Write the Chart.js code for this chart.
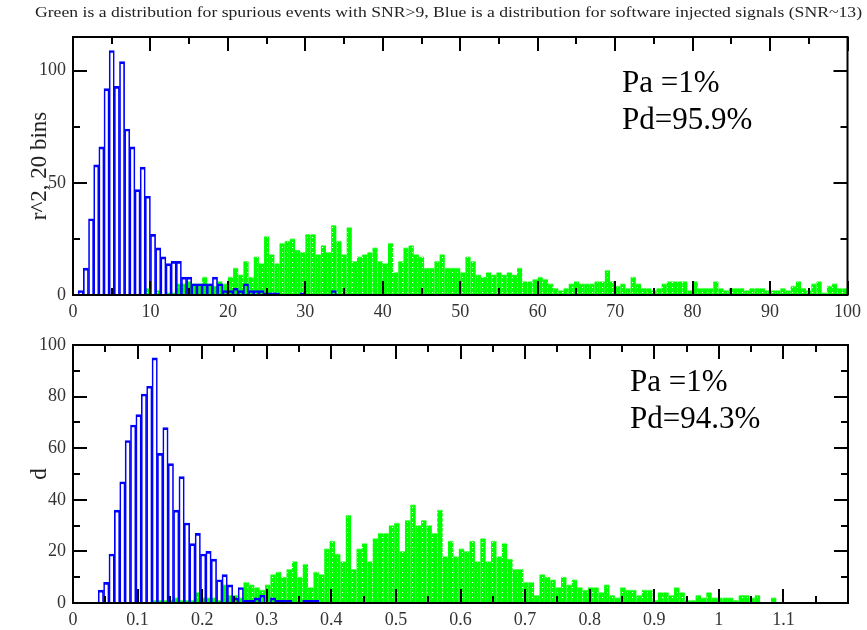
<!DOCTYPE html>
<html>
<head>
<meta charset="utf-8">
<script src="https://cdn.jsdelivr.net/npm/chart.js@4.4.1/dist/chart.umd.min.js"></script>
<style>
  html, body { margin: 0; padding: 0; background: #fff; }
  #wrap { position: relative; width: 867px; height: 630px; }
  canvas { position: absolute; left: 0; }
</style>
</head>
<body>
<div id="wrap">
  <canvas id="topChart" width="867" height="320" style="top:0"></canvas>
  <canvas id="bottomChart" width="867" height="310" style="top:320px"></canvas>
</div>
<script>
const mainTitle = "Green is a distribution for spurious events with SNR>9, Blue is a distribution for software injected signals (SNR~13)";

// top panel: r^2, bins of 2/3 starting at 0
const topBinStart = 0;
const topBinWidth = 2 / 3;
const topBlue = [0,2,12,34,58,66,92,109,93,104,74,66,47,57,44,27,21,17,14,15,15,8,8,5,5,5,5,8,5,2,2,3,2,5,2,2,2,1,1,1,0,0,0,0,1,0,0,0,0,0,2];
const topGreen = [
  0,0,0,0,0,0,0,0,0,0,
  0,0,0,0,3,0,2,0,1,1,
  5,5,6,5,5,8,5,4,6,5,
  8,12,9,15,8,17,14,26,18,14,
  23,24,25,20,19,27,27,18,22,19,
  31,24,18,30,15,17,18,19,21,15,
  14,23,10,15,21,22,18,17,12,12,
  15,18,12,12,12,10,17,15,9,8,
  10,9,10,9,10,9,12,6,6,7,
  8,7,5,3,2,3,5,6,5,5,
  5,6,6,11,6,4,5,3,8,5,
  3,3,2,3,5,6,6,6,6,2,
  6,3,3,3,6,3,2,3,3,3,
  2,3,3,3,2,2,2,3,2,4,
  6,3,2,5,6,1,4,5,3,3
];
const topXTicks = [0,10,20,30,40,50,60,70,80,90,100];
const topXMinor = [5,15,25,35,45,55,65,75,85,95];
const topYTicks = [0,50,100];
const topYMinor = [25,75];
const topNotes = ["Pa =1%", "Pd=95.9%"];

// bottom panel: d, bins of 1/120 starting at 0.039
const bottomBinStart = 0.039;
const bottomBinWidth = 1 / 120;
const bottomBlue = [5,8,19,36,47,63,69,73,81,84,95,58,68,54,36,49,31,23,27,19,20,17,9,11,7,2,6,1,1,2,3,0,2,1,1,1,0,0,1,1,1];
const bottomGreen = [
  0,0,0,0,0,0,0,0,0,0,
  1,1,1,1,2,1,1,1,4,2,
  2,2,1,7,3,3,2,8,7,6,
  5,7,11,12,10,13,16,10,15,6,
  12,11,21,24,19,16,34,13,21,23,
  16,25,27,27,30,31,20,32,38,30,
  32,30,27,36,18,24,18,21,20,24,
  16,25,16,24,18,23,17,13,13,8,
  8,3,11,10,9,6,10,7,9,6,
  5,6,6,4,7,3,2,6,5,5,
  3,5,5,1,4,4,3,6,4,1,
  1,3,2,4,2,2,2,2,1,3,
  3,2,3,0,0,2
];
const bottomXTicks = [0,0.1,0.2,0.3,0.4,0.5,0.6,0.7,0.8,0.9,1,1.1];
const bottomXMinor = [0.05,0.15,0.25,0.35,0.45,0.55,0.65,0.75,0.85,0.95,1.05,1.15];
const bottomYTicks = [0,20,40,60,80,100];
const bottomYMinor = [10,30,50,70,90];
const bottomNotes = ["Pa =1%", "Pd=94.3%"];

const serif = "'Liberation Serif', 'Times New Roman', serif";

// histogram counts -> bar points at bin centres
const toPoints = (counts, start, width) =>
  counts.map((c, i) => ({ x: start + (i + 0.5) * width, y: c > 0 ? c : null }));

// green with white dots
function dotPattern(ctx) {
  const c = document.createElement("canvas");
  c.width = 5;
  c.height = 5;
  const g = c.getContext("2d");
  g.fillStyle = "#00ff00";
  g.fillRect(0, 0, 5, 5);
  g.fillStyle = "#f4fff4";
  g.fillRect(2, 2, 1, 1);
  return ctx.createPattern(c, "repeat");
}

// frame, inward ticks on all four sides, and the Pa/Pd notes
const framePlugin = {
  id: "frame",
  afterDatasetsDraw(chart, args, o) {
    const { ctx, chartArea: a, scales: { x, y } } = chart;
    ctx.save();
    ctx.strokeStyle = "#000";
    ctx.lineWidth = 2;
    const line = (x1, y1, x2, y2) => {
      ctx.beginPath();
      ctx.moveTo(x1, y1);
      ctx.lineTo(x2, y2);
      ctx.stroke();
    };
    const xt = (vals, len) => vals.forEach(v => {
      const p = Math.round(x.getPixelForValue(v));
      line(p, a.bottom, p, a.bottom - len);
      line(p, a.top, p, a.top + len);
    });
    const yt = (vals, len) => vals.forEach(v => {
      const p = Math.round(y.getPixelForValue(v));
      line(a.left, p, a.left + len, p);
      line(a.right, p, a.right - len, p);
    });
    xt(o.xMajor, 14);
    xt(o.xMinor, 7);
    yt(o.yMajor, 14);
    yt(o.yMinor, 7);
    ctx.strokeRect(a.left, a.top, a.right - a.left, a.bottom - a.top);

    ctx.fillStyle = "#000";
    ctx.font = "31px " + serif;
    ctx.textBaseline = "alphabetic";
    o.notes.forEach((t, i) => ctx.fillText(t, o.noteX, o.noteY + i * 37));
    ctx.restore();
  }
};

const titlePlugin = {
  id: "mainTitle",
  afterDraw(chart) {
    const ctx = chart.ctx;
    ctx.save();
    ctx.font = "15px " + serif;
    ctx.fillStyle = "#222";
    ctx.textBaseline = "alphabetic";
    const w = ctx.measureText(mainTitle).width;
    const target = 827;
    ctx.translate(35, 17);
    ctx.scale(target / w, 1);
    ctx.fillText(mainTitle, 0, 0);
    ctx.restore();
  }
};

const tickFont = { family: serif, size: 18 };
const fmt = v => String(+Number(v).toFixed(2));

function xAxis(max, ticks, h) {
  return {
    type: "linear", min: 0, max, offset: false,
    grid: { display: false, drawTicks: false, offset: false },
    border: { display: false },
    afterBuildTicks: s => { s.ticks = ticks.map(v => ({ value: v })); },
    afterFit: s => { s.height = h; },
    ticks: { font: tickFont, color: "#333", padding: 6, maxRotation: 0, autoSkip: false, callback: fmt }
  };
}

function yAxis(max, ticks, title) {
  return {
    type: "linear", min: 0, max,
    grid: { display: false, drawTicks: false },
    border: { display: false },
    afterBuildTicks: s => { s.ticks = ticks.map(v => ({ value: v })); },
    afterFit: s => { s.width = 73; },
    ticks: { font: tickFont, color: "#333", padding: 7, callback: fmt },
    title: { display: true, text: title, font: { family: serif, size: 23 }, color: "#222", padding: { top: 26, bottom: 0 } }
  };
}

function makePanel(id, blue, green, start, width, x, y, frame, padTop, extra) {
  const canvas = document.getElementById(id);
  const pattern = dotPattern(canvas.getContext("2d"));
  return new Chart(canvas, {
    type: "bar",
    data: {
      datasets: [
        {
          label: "software injected",
          data: toPoints(blue, start, width),
          backgroundColor: "rgba(0,0,0,0)",
          borderColor: "#0000ff",
          borderWidth: { top: 2, left: 1, right: 1, bottom: 0 },
          grouped: false, barPercentage: 1, categoryPercentage: 1
        },
        {
          label: "spurious",
          data: toPoints(green, start, width),
          backgroundColor: pattern,
          borderColor: "#80ff80",
          borderWidth: { top: 1, left: 0, right: 0, bottom: 0 },
          inflateAmount: 0.6,
          grouped: false, barPercentage: 1, categoryPercentage: 1
        }
      ]
    },
    options: {
      responsive: false,
      animation: false,
      devicePixelRatio: 1,
      layout: { padding: { top: padTop, right: 19, bottom: 0, left: 0 } },
      scales: { x, y },
      plugins: { legend: { display: false }, tooltip: { enabled: false }, frame }
    },
    plugins: [framePlugin].concat(extra)
  });
}

makePanel("topChart", topBlue, topGreen, topBinStart, topBinWidth,
  xAxis(100, topXTicks, 25), yAxis(115, topYTicks, "r^2, 20 bins"),
  { xMajor: topXTicks, xMinor: topXMinor, yMajor: topYTicks, yMinor: topYMinor,
    notes: topNotes, noteX: 622, noteY: 92 },
  37, [titlePlugin]);

makePanel("bottomChart", bottomBlue, bottomGreen, bottomBinStart, bottomBinWidth,
  xAxis(1.2, bottomXTicks, 27), yAxis(100, bottomYTicks, "d"),
  { xMajor: bottomXTicks, xMinor: bottomXMinor, yMajor: bottomYTicks, yMinor: bottomYMinor,
    notes: bottomNotes, noteX: 630, noteY: 71 },
  25, []);
</script>
</body>
</html>
